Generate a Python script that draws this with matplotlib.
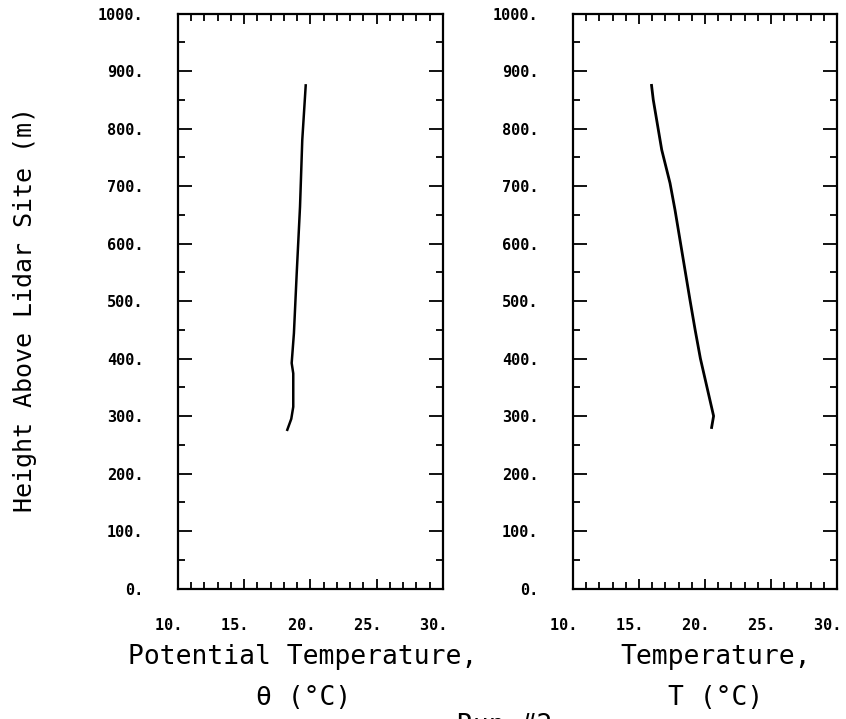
'''
Vertical profiles of potential temperature and temperature above the lidar site.
'''

import matplotlib
matplotlib.use('Agg')
import matplotlib.pyplot as plt
from matplotlib.ticker import MultipleLocator, StrMethodFormatter


# potential temperature profile (left panel)
theta_height = [875, 780, 664, 548, 444, 392, 374, 316, 295, 276]
theta_value = [19.64, 19.38, 19.21, 18.96, 18.75, 18.58, 18.70, 18.70, 18.55, 18.25]

# temperature profile (right panel)
temp_height = [875, 850, 763, 705, 658, 589, 502, 450, 400, 350, 300, 280]
temp_value = [15.95, 16.08, 16.72, 17.35, 17.73, 18.23, 18.86, 19.25, 19.65, 20.15, 20.65, 20.5]

X_LIMITS = (10, 30)
Y_LIMITS = (0, 1000)

MONO = 'DejaVu Sans Mono'


def style_axis(ax) -> None:
    '''
    Apply the plotter-style frame and ticks.
    '''
    ax.set_xlim(*X_LIMITS)
    ax.set_ylim(*Y_LIMITS)
    ax.xaxis.set_major_locator(MultipleLocator(5))
    ax.xaxis.set_minor_locator(MultipleLocator(1))
    ax.yaxis.set_major_locator(MultipleLocator(100))
    ax.yaxis.set_minor_locator(MultipleLocator(50))
    # trailing blanks nudge the x labels a little to the left, like the plotter did
    ax.xaxis.set_major_formatter(StrMethodFormatter('{x:.0f}.  '))
    ax.yaxis.set_major_formatter(StrMethodFormatter('{x:.0f}.'))
    ax.tick_params(axis='both', which='both', direction='in',
                   top=True, right=True, width=1.3, color='black')
    ax.tick_params(axis='x', which='major', length=7.5, pad=21)
    ax.tick_params(axis='x', which='minor', length=5)
    ax.tick_params(axis='y', which='major', length=10, pad=25)
    ax.tick_params(axis='y', which='minor', length=5)
    for label in ax.get_xticklabels() + ax.get_yticklabels():
        label.set_fontfamily(MONO)
        label.set_fontsize(11)
        label.set_fontweight('bold')
    for spine in ax.spines.values():
        spine.set_linewidth(1.6)


fig = plt.figure(figsize=(8.46, 7.19), dpi=100)
ax_left = fig.add_axes([0.2104, 0.1815, 0.3132, 0.7997])
ax_right = fig.add_axes([0.6773, 0.1815, 0.3121, 0.7997])

ax_left.plot(theta_value, theta_height, color='black', lw=1.8)
ax_right.plot(temp_value, temp_height, color='black', lw=2.0)

style_axis(ax_left)
style_axis(ax_right)

fig.text(0.029, 0.57, 'Height Above Lidar Site (m)', rotation=90,
         ha='center', va='center', family=MONO, fontsize=18)

fig.text(303 / 846, 1 - 657 / 719, 'Potential Temperature,',
         ha='center', va='center', family=MONO, fontsize=19)
fig.text(304 / 846, 1 - 698 / 719, 'θ (°C)',
         ha='center', va='center', family=MONO, fontsize=19)
fig.text(716 / 846, 1 - 657 / 719, 'Temperature,',
         ha='center', va='center', family=MONO, fontsize=19)
fig.text(716 / 846, 1 - 698 / 719, 'T (°C)',
         ha='center', va='center', family=MONO, fontsize=19)
fig.text(457 / 846, 1 - 713 / 719, 'Run #2',
         ha='left', va='top', family=MONO, fontsize=19)

fig.savefig('out.png', dpi=100, facecolor='white')
